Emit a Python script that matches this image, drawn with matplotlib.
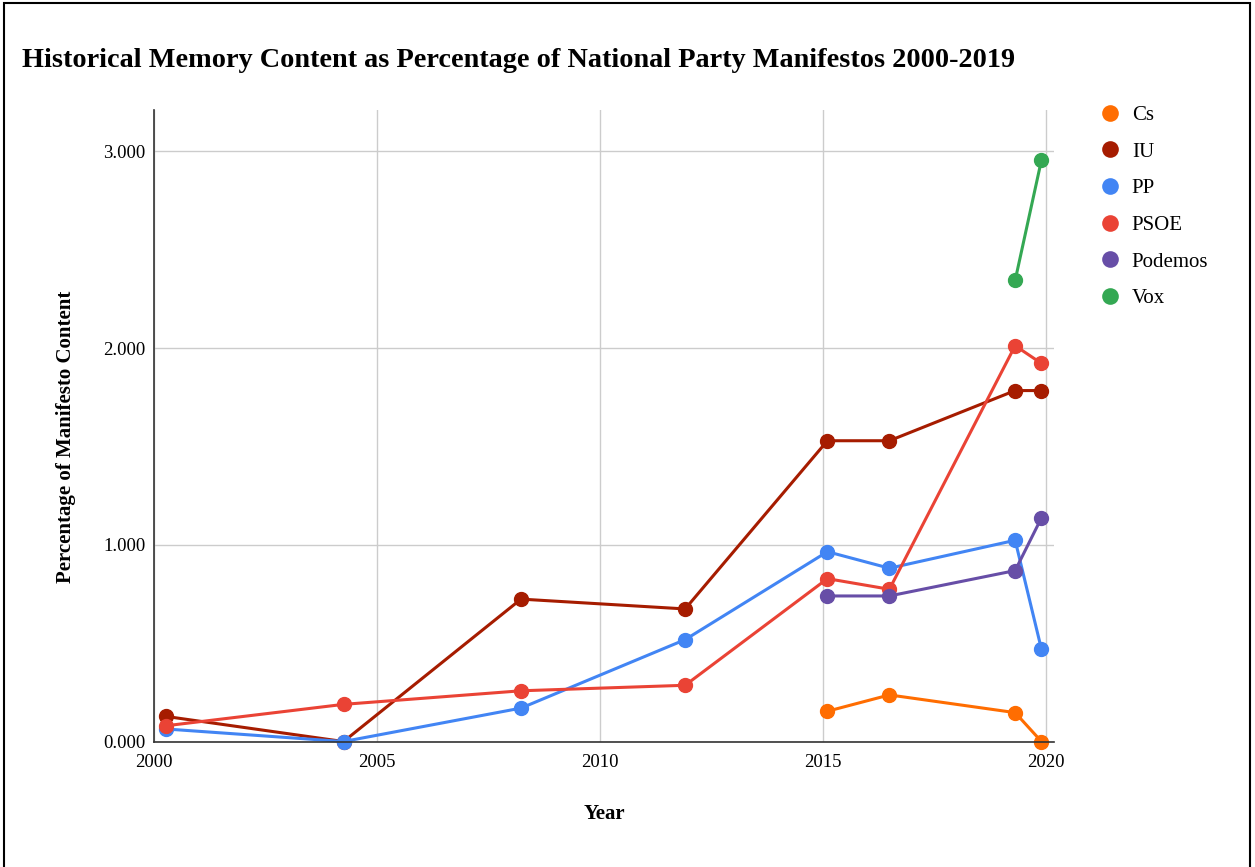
import matplotlib
matplotlib.use("Agg")
import matplotlib.pyplot as plt
from matplotlib.lines import Line2D
from matplotlib.patches import Rectangle
from matplotlib.ticker import FormatStrFormatter

plt.rcParams['font.family'] = ['Liberation Serif', 'DejaVu Serif']

years_all = [2000.26, 2004.25, 2008.23, 2011.91, 2015.10, 2016.49, 2019.31, 2019.90]
years_recent = [2015.10, 2016.49, 2019.31, 2019.90]
years_vox = [2019.31, 2019.90]

cs = [0.154, 0.237, 0.147, 0.0]
iu = [0.128, 0.0, 0.724, 0.674, 1.529, 1.529, 1.784, 1.784]
pp = [0.064, 0.0, 0.170, 0.518, 0.965, 0.881, 1.023, 0.469]
psoe = [0.080, 0.189, 0.258, 0.286, 0.828, 0.774, 2.012, 1.922]
podemos = [0.740, 0.740, 0.869, 1.137]
vox = [2.344, 2.956]

series = [
    ("Cs", years_recent, cs, "#ff6d01"),
    ("IU", years_all, iu, "#a61c00"),
    ("PP", years_all, pp, "#4285f4"),
    ("PSOE", years_all, psoe, "#ea4335"),
    ("Podemos", years_recent, podemos, "#674ea7"),
    ("Vox", years_vox, vox, "#34a853"),
]

x_ticks = [2000, 2005, 2010, 2015, 2020]
y_ticks = [0, 1, 2, 3]

fig = plt.figure(figsize=(12.55, 8.67), dpi=100)
ax = fig.add_axes([0.1227, 0.1447, 0.7171, 0.7284])

for name, xs, ys, col in series:
    ax.plot(xs, ys, color=col, lw=2.2, marker='o', markersize=10, zorder=3,
            clip_on=False, label=name)

ax.set_xlim(2000, 2020.18)
ax.set_ylim(0, 3.21)
ax.set_xticks(x_ticks)
ax.set_yticks(y_ticks)
ax.yaxis.set_major_formatter(FormatStrFormatter('%.3f'))
ax.grid(True, color='#cccccc', lw=1)
ax.set_axisbelow(True)
ax.tick_params(length=0, labelsize=13.5)
ax.tick_params(axis='x', pad=9)
ax.tick_params(axis='y', pad=6)
for s in ['top', 'right']:
    ax.spines[s].set_visible(False)
for s in ['left', 'bottom']:
    ax.spines[s].set_color('#333333')
    ax.spines[s].set_linewidth(1.2)
    ax.spines[s].set_zorder(4)

ax.set_xlabel("Year", fontsize=15, fontweight='bold')
ax.xaxis.set_label_coords(0.5, -0.099)
ax.set_ylabel("Percentage of Manifesto Content", fontsize=15, fontweight='bold')
ax.yaxis.set_label_coords(-0.087, 0.482)

fig.text(0.0175, 0.93, "Historical Memory Content as Percentage of National Party Manifestos 2000-2019",
         fontsize=20.3, fontweight='bold', ha='left', va='center')

handles = [Line2D([], [], marker='o', linestyle='none', markersize=12, color=col,
                  markeredgewidth=0) for _, _, _, col in series]
labels = [name for name, _, _, _ in series]
fig.legend(handles, labels, loc='upper left', bbox_to_anchor=(0.8695, 0.888),
           frameon=False, fontsize=15, labelspacing=0.82, handletextpad=0.55,
           handlelength=1.0, borderaxespad=0)

fig.patches.append(Rectangle((0.003, -0.01), 0.993, 1.006, transform=fig.transFigure,
                             fill=False, edgecolor='black', lw=1.5))

fig.savefig("out.png", dpi=100, facecolor='white')
